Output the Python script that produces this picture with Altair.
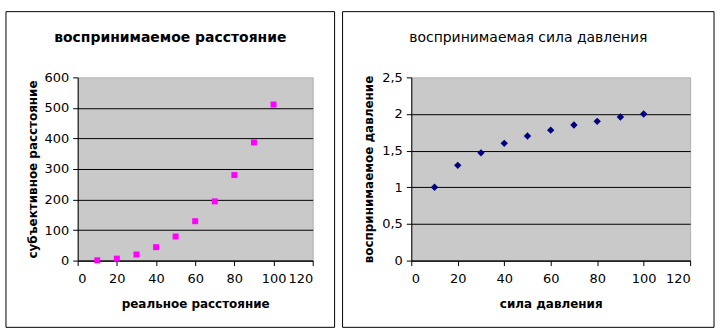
import altair as alt
import pandas as pd

# ---- data ----
real_distance = [10, 20, 30, 40, 50, 60, 70, 80, 90, 100]
perceived_distance = [1, 6.5, 20, 44, 79, 129, 194, 280, 387, 511]

pressure = [10, 20, 30, 40, 50, 60, 70, 80, 90, 100]
perceived_pressure = [1.0, 1.3, 1.47, 1.6, 1.7, 1.78, 1.85, 1.9, 1.96, 2.0]

x_ticks = [0, 20, 40, 60, 80, 100, 120]
left_y_ticks = [0, 100, 200, 300, 400, 500, 600]
right_y_ticks = [0, 0.5, 1, 1.5, 2, 2.5]

left_title = "воспринимаемое расстояние"
left_xtitle = "реальное расстояние"
left_ytitle = "субъективное расстояние"
right_title = "воспринимаемая сила давления"
right_xtitle = "сила давления"
right_ytitle = "воспринимаемое давление"

FONT = "DejaVu Sans"
LW, LH = 236, 184
RW, RH = 280, 184

df_left = pd.DataFrame({"x": real_distance, "y": perceived_distance})
df_right = pd.DataFrame({"x": pressure, "y": perceived_pressure})
one = alt.Data(values=[{}])

comma = "replace(toString(datum.value), '.', ',')"


def y_axis(values, title, top, tpad):
    return alt.Axis(
        values=values,
        title=title,
        grid=True,
        gridColor="black",
        gridWidth=1,
        gridOpacity={"condition": {"test": f"datum.value >= {top}", "value": 0}, "value": 1},
        labelExpr=comma,
        labelPadding=4,
        titlePadding=tpad,
    )


def x_axis(title):
    return alt.Axis(values=x_ticks, title=title, grid=False, labelPadding=7, titlePadding=13)


def panel(df, w, h, ymax, yticks, title, xtitle, ytitle, shape, size, color,
          bx0, bx1, by0, by1, tx, title_weight, tpad):
    pts = alt.Chart(df).mark_point(
        shape=shape, filled=True, size=size, color=color, opacity=1
    ).encode(
        x=alt.X("x:Q", scale=alt.Scale(domain=[0, 120], nice=False), axis=x_axis(xtitle)),
        y=alt.Y("y:Q", scale=alt.Scale(domain=[0, ymax], nice=False),
                axis=y_axis(yticks, ytitle, ymax, tpad)),
    )
    border = alt.Chart(one).mark_rect(
        fillOpacity=0, stroke="black", strokeWidth=1
    ).encode(
        x=alt.value(bx0), x2=alt.value(bx1), y=alt.value(by0), y2=alt.value(by1)
    )
    ttl = alt.Chart(one).mark_text(
        text=title, font=FONT, fontSize=14, fontWeight=title_weight,
        align="center", baseline="middle", color="black"
    ).encode(x=alt.value(tx), y=alt.value(-40))
    return alt.layer(border, pts, ttl).properties(width=w, height=h)


left = panel(df_left, LW, LH, 600, left_y_ticks, left_title, left_xtitle, left_ytitle,
             "square", 36, "#ff00ff", -72, LW + 22, -66, LH + 67, 93, "bold", 5)
right = panel(df_right, RW, RH, 2.5, right_y_ticks, right_title, right_xtitle, right_ytitle,
              "diamond", 55, "#000080", -69, RW + 24, -66, RH + 67, 117.5, "normal", 6)

chart = alt.hconcat(left, right, spacing=6).properties(
    padding={"left": 5, "top": 10, "right": 6, "bottom": 4},
    background="white",
).configure_view(
    fill="#c9c9c9", stroke="#b0b0b0"
).configure_axis(
    domainColor="black", tickColor="black", labelColor="black", titleColor="black",
    labelFont=FONT, titleFont=FONT, labelFontSize=13, titleFontSize=12,
    titleFontWeight="bold", tickSize=5, domainWidth=1, tickWidth=1,
)

chart.save("out.html", embed_options={"renderer": "svg", "actions": False})
